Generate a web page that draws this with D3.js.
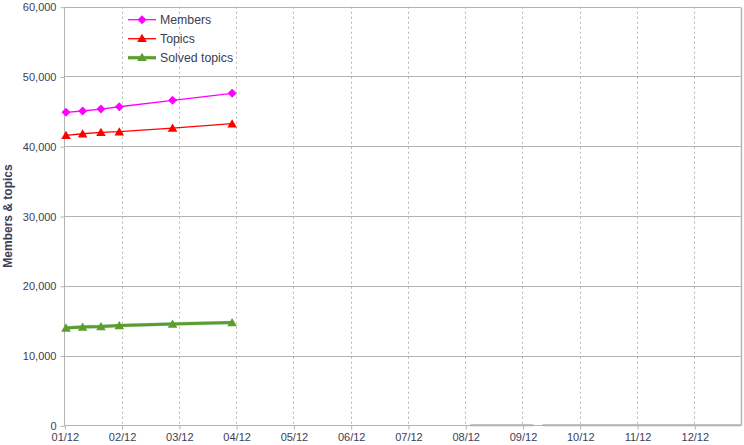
<!DOCTYPE html>
<html><head><meta charset="utf-8">
<script src="https://cdn.jsdelivr.net/npm/d3@7"></script>
<style>body{margin:0;background:#fff;}svg{display:block;font-family:"Liberation Sans",Arial,sans-serif;}</style>
</head><body>
<svg id="c" width="744" height="445"></svg>
<script>
// Month labels (x ticks), positions are month indices 0..11
const monthLabels = ["01/12","02/12","03/12","04/12","05/12","06/12","07/12","08/12","09/12","10/12","11/12","12/12"];
// Sample positions in fractional months
const samplePos = [0.03, 0.32, 0.64, 0.96, 1.89, 2.93];
const members = [44860, 45050, 45330, 45660, 46580, 47580];
const topics = [41560, 41790, 41990, 42080, 42610, 43230];
const solved = [13960, 14100, 14160, 14300, 14530, 14730];
// Unlabelled zero series along the baseline
const zeroPos = [7.09, 8.19, 8.19, 8.35, 11.81];
const zeroVals = [0, 0, null, 0, 0];
const yTicks = [0, 10000, 20000, 30000, 40000, 50000, 60000];
const seriesNames = ["Members", "Topics", "Solved topics"];
const seriesColors = ["#ff00ff", "#ff0000", "#5c9e2a"];

const svg = d3.select("#c");
const L = 64.3, R = 740.7, T = 6.7, B = 425.3;
const x = d3.scaleLinear().domain([0, 11.81]).range([L, R]);
const y = d3.scaleLinear().domain([0, 60000]).range([B, T]);
const textCol = "#3d3d55";
const gridCol = "#b3b3b3";

// horizontal grid
svg.append("g").selectAll("line").data(yTicks.slice(1)).join("line")
  .attr("x1", L).attr("x2", R).attr("y1", d => Math.round(y(d)) + 0.5).attr("y2", d => Math.round(y(d)) + 0.5)
  .attr("stroke", gridCol).attr("stroke-width", 1);
// vertical dashed grid
svg.append("g").selectAll("line").data(d3.range(1, 12)).join("line")
  .attr("x1", d => Math.round(x(d)) + 0.5).attr("x2", d => Math.round(x(d)) + 0.5)
  .attr("y1", T).attr("y2", B)
  .attr("stroke", "#bbb2a8").attr("stroke-width", 1).attr("stroke-dasharray", "2,3");
// right border
svg.append("line").attr("x1", Math.round(R) + 0.5).attr("x2", Math.round(R) + 0.5).attr("y1", Math.round(T)+0.5).attr("y2", Math.round(B)+0.5)
  .attr("stroke", gridCol).attr("stroke-width", 1.5);

// axes
const yAxis = d3.axisLeft(y).tickValues(yTicks).tickSize(4).tickPadding(4)
  .tickFormat(d3.format(","));
const gy = svg.append("g").attr("transform", `translate(${Math.round(L)+0.5},0.5)`).call(yAxis);
gy.select(".domain").attr("stroke", gridCol).attr("d", `M0,${Math.round(T)}V${Math.round(B)}`);
gy.selectAll(".tick line").attr("stroke", gridCol);
gy.selectAll("text").attr("fill", textCol).style("font-size", "11px").style("font-family", "Liberation Sans, Arial, sans-serif");

const xAxis = d3.axisBottom(x).tickValues(d3.range(0, 12)).tickSize(4).tickPadding(4)
  .tickFormat(i => monthLabels[i]);
const gx = svg.append("g").attr("transform", `translate(0.5,${Math.round(B)+0.5})`).call(xAxis);
gx.select(".domain").attr("stroke", gridCol).attr("d", `M${Math.round(L)},0H${Math.round(R)}`);
gx.selectAll(".tick line").attr("stroke", gridCol);
gx.selectAll("text").attr("fill", textCol).style("font-size", "11px").style("font-family", "Liberation Sans, Arial, sans-serif");

// y title
svg.append("text").attr("transform", `translate(12,${(T+B)/2}) rotate(-90)`)
  .attr("text-anchor", "middle").attr("fill", textCol)
  .style("font-size", "12px").style("font-weight", "bold").text("Members & topics");

// zero series
const zl = d3.line().defined(d => d[1] !== null).x(d => x(d[0])).y(d => y(d[1]));
svg.append("path").datum(zeroPos.map((p, i) => [p, zeroVals[i]]))
  .attr("d", zl).attr("fill", "none").attr("stroke", "#b0b0b0").attr("stroke-width", 2);

const line = d3.line().x(d => x(d[0])).y(d => y(d[1]));
const triSym = d3.symbol().type(d3.symbolTriangle).size(40)();
const diaSym = "M0,-4.5L4.5,0L0,4.5L-4.5,0Z";
const syms = [diaSym, triSym, triSym];
const widths = [1.3, 1.3, 3];
const unders = [null, null, "#c4e0ee"];

function drawSeries(vals, k) {
  const pts = samplePos.map((p, i) => [p, vals[i]]);
  if (unders[k]) svg.append("path").datum(pts).attr("d", line).attr("fill", "none").attr("stroke", unders[k]).attr("stroke-width", widths[k] + 0.8);
  svg.append("path").datum(pts).attr("d", line).attr("fill", "none").attr("stroke", seriesColors[k]).attr("stroke-width", widths[k]);
  svg.append("g").selectAll("path").data(pts).join("path")
    .attr("transform", d => `translate(${x(d[0])},${y(d[1]) + (k > 0 ? 1 : 0)})`)
    .attr("d", syms[k]).attr("fill", seriesColors[k]);
}
[members, topics, solved].forEach((v, k) => drawSeries(v, k));

// legend
const lg = svg.append("g");
seriesNames.forEach((name, k) => {
  const ly = 19.7 + k * 19;
  if (unders[k]) lg.append("line").attr("x1", 128).attr("x2", 156).attr("y1", ly).attr("y2", ly).attr("stroke", unders[k]).attr("stroke-width", widths[k] + 0.8);
  lg.append("line").attr("x1", 128).attr("x2", 156).attr("y1", ly).attr("y2", ly).attr("stroke", seriesColors[k]).attr("stroke-width", widths[k]);
  lg.append("path").attr("transform", `translate(142,${ly + (k > 0 ? 0.5 : 0)})`).attr("d", syms[k]).attr("fill", seriesColors[k]);
  lg.append("text").attr("x", 160).attr("y", ly).attr("dy", "0.35em").attr("fill", textCol)
    .style("font-size", "12.3px").text(name);
});
</script>
</body></html>
